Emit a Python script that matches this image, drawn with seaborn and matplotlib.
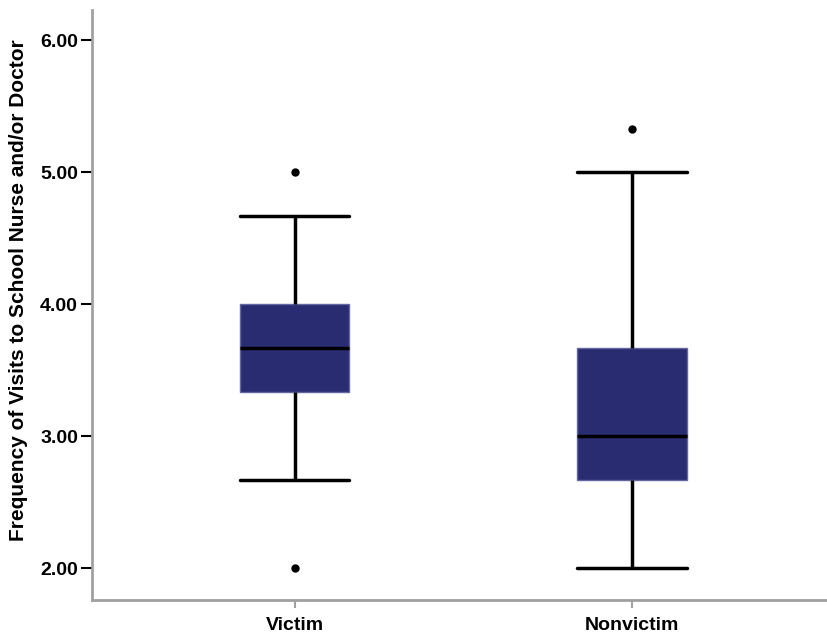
import matplotlib
matplotlib.use("Agg")
import matplotlib.pyplot as plt
import seaborn as sns
import pandas as pd
import numpy as np

groups = ["Victim", "Nonvictim"]
victim_values = [2.0, 2.667, 3.0, 3.333, 3.333, 3.667, 3.667, 3.667, 4.0, 4.0, 4.333, 4.667, 5.0]
nonvictim_values = [2.0, 2.333, 2.667, 2.667, 2.667, 3.0, 3.0, 3.0, 3.333, 3.667, 4.0, 5.0, 5.333]
y_ticks = [2.0, 3.0, 4.0, 5.0, 6.0]
y_label = "Frequency of Visits to School Nurse and/or Doctor"

df = pd.DataFrame({
    "group": ["Victim"] * len(victim_values) + ["Nonvictim"] * len(nonvictim_values),
    "value": victim_values + nonvictim_values,
})

sns.set_style("white")
plt.rcParams["font.family"] = ["Liberation Sans", "DejaVu Sans"]
plt.rcParams["text.color"] = "black"
plt.rcParams["axes.labelcolor"] = "black"
plt.rcParams["xtick.color"] = "black"
plt.rcParams["ytick.color"] = "black"

fig = plt.figure(figsize=(8.28, 6.33), dpi=100)
ax = fig.add_axes([0.111, 0.052, 0.889, 0.932])

box_w = 0.325
box_color = "#2a2c72"
sns.boxplot(
    data=df, x="group", y="value", order=groups, ax=ax,
    width=box_w, whis=1.4,
    boxprops=dict(facecolor=box_color, edgecolor="#6466a0", linewidth=1.0),
    medianprops=dict(color="black", linewidth=2.5),
    whiskerprops=dict(color="black", linewidth=2.5),
    capprops=dict(color="black", linewidth=2.5),
    flierprops=dict(marker="o", markerfacecolor="black", markeredgecolor="black", markersize=5),
)
# caps span the full box width (SPSS style)
for line in ax.lines:
    xd = np.asarray(line.get_xdata(), dtype=float)
    yd = np.asarray(line.get_ydata(), dtype=float)
    if len(xd) == 2 and yd[0] == yd[1] and xd[0] != xd[1]:
        c = xd.mean()
        line.set_xdata([c - box_w / 2, c + box_w / 2])

ax.set_xlim(-0.60, 1.58)
ax.set_ylim(1.76, 6.23)
ax.set_yticks(y_ticks)
ax.set_yticklabels([f"{t:.2f}" for t in y_ticks], fontsize=14, fontweight="bold")
ax.set_xticks([0, 1])
ax.set_xticklabels(groups, fontsize=14, fontweight="bold")
ax.set_xlabel("")
ax.set_ylabel(y_label, fontsize=15, fontweight="bold")
ax.yaxis.set_label_coords(-0.087, 0.525)

for s in ["top", "right"]:
    ax.spines[s].set_visible(False)
for s in ["left", "bottom"]:
    ax.spines[s].set_color("#a0a0a0")
    ax.spines[s].set_linewidth(2)
ax.tick_params(axis="y", length=8, width=1.5, color="black", left=True, pad=2)
ax.tick_params(axis="x", length=6, width=1.5, color="#a0a0a0", bottom=True, pad=6)

fig.savefig("out.png", dpi=100)
